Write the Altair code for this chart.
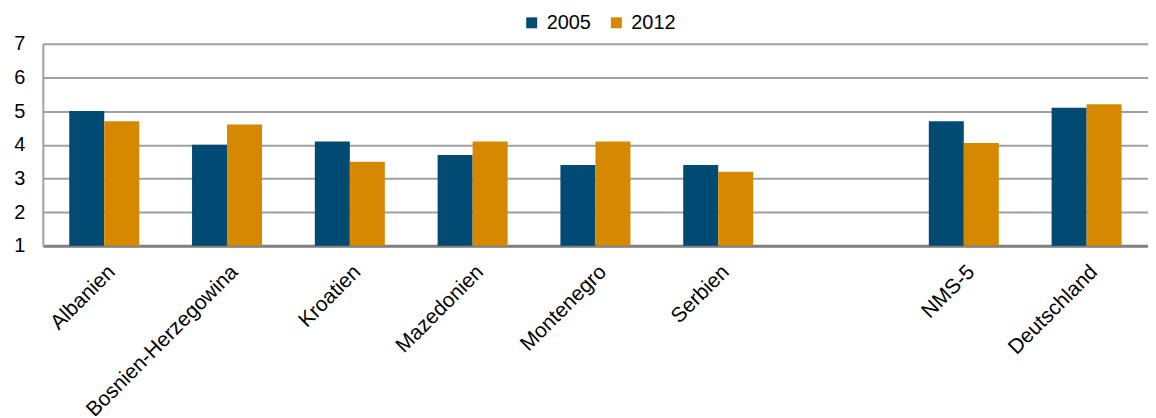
import altair as alt
import pandas as pd

categories = ["Albanien", "Bosnien-Herzegowina", "Kroatien", "Mazedonien", "Montenegro",
              "Serbien", " ", "NMS-5", "Deutschland"]
v2005 = [5.0, 4.0, 4.1, 3.7, 3.4, 3.4, None, 4.7, 5.1]
v2012 = [4.7, 4.6, 3.5, 4.1, 4.1, 3.2, None, 4.05, 5.2]
series = ["2005", "2012"]
colors = ["#004A73", "#D68800"]

rows = []
for c, a, b in zip(categories, v2005, v2012):
    rows.append({"cat": c, "year": "2005", "value": a, "base": 1})
    rows.append({"cat": c, "year": "2012", "value": b, "base": 1})
df = pd.DataFrame(rows)

font = "Liberation Sans"

chart = alt.Chart(df).mark_bar().encode(
    x=alt.X("cat:N", sort=categories, title=None,
            scale=alt.Scale(paddingInner=0.43, paddingOuter=0.215),
            axis=alt.Axis(labelAngle=-45, labelFontSize=21, labelFont=font, labelColor="#000",
                          ticks=False, domainColor="#808080", domainWidth=3,
                          labelPadding=15, labelLimit=400)),
    xOffset=alt.XOffset("year:N", sort=series),
    y=alt.Y("value:Q", title=None,
            scale=alt.Scale(domain=[1, 7], zero=False, nice=False),
            axis=alt.Axis(values=[1, 2, 3, 4, 5, 6, 7], labelFontSize=20, labelFont=font,
                          labelColor="#000", ticks=False, labelPadding=18,
                          domainColor="#A0A0A0", domainWidth=2,
                          gridColor="#A0A0A0", gridWidth=2)),
    y2="base:Q",
    color=alt.Color("year:N", sort=series, title=None,
                    scale=alt.Scale(domain=series, range=colors),
                    legend=alt.Legend(orient="none", legendX=481, legendY=-31,
                                      direction="horizontal", symbolType="square",
                                      symbolSize=121, labelFontSize=20, labelFont=font,
                                      labelColor="#000", columnPadding=15,
                                      symbolStrokeWidth=0, labelOffset=5)),
).properties(
    width=1110, height=203,
    autosize=alt.AutoSizeParams(type="none"),
    padding={"left": 35, "top": 35, "right": 0, "bottom": 170},
).configure_view(stroke=None)

chart.save("out.html", embed_options={"renderer": "svg", "actions": False})
